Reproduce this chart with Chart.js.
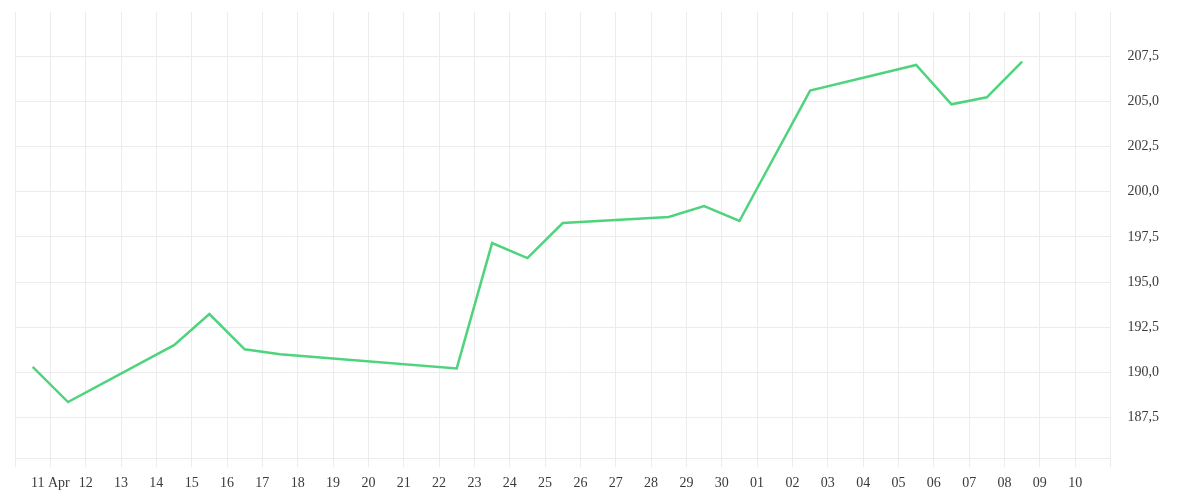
<!DOCTYPE html>
<html>
<head>
<meta charset="utf-8">
<script src="https://cdn.jsdelivr.net/npm/chart.js@4"></script>
<style>
	html, body { margin: 0; padding: 0; background: #ffffff; }
	#wrap { width: 1200px; height: 500px; }
</style>
</head>
<body>
<div id="wrap"><canvas id="ChartA"></canvas></div>
<script>
//day offsets counted from 10 Apr (x = 0 is 10 Apr 00:00), points sit at midday
var tradeDays = [0.5, 1.5, 4.5, 5.5, 6.5, 7.5, 12.5, 13.5, 14.5, 15.5, 18.5, 19.5, 20.5, 22.5, 25.5, 26.5, 27.5, 28.5];
var closePrices = [190.3, 188.36, 191.51, 193.23, 191.28, 191.0, 190.22, 197.16, 196.33, 198.27, 198.6, 199.21, 198.38, 205.6, 207.02, 204.84, 205.23, 207.2];

//one label for each day gridline, 10 Apr to 11 May
var dayLabels = ["", "11 Apr", "12", "13", "14", "15", "16", "17", "18", "19", "20", "21", "22", "23", "24", "25", "26", "27", "28", "29", "30",
	"01", "02", "03", "04", "05", "06", "07", "08", "09", "10", ""];

var yMin = 185.25;
var yMax = 209.95;

var points = tradeDays.map(function(d, i) { return {x: d, y: closePrices[i]}; });

var gridColor = "#ececec";
var tickFont = {family: "Liberation Serif", size: 14};

new Chart("ChartA",
{
	type: "line",
	data:
	{
		datasets: [
		{
			data: points,
			borderColor: "#4fd47d",
			borderWidth: 2.5,
			pointRadius: 0,
			tension: 0,
			fill: false
		}]
	},
	options:
	{
		responsive: true,
		maintainAspectRatio: false,
		animation: false,
		layout: {padding: {left: 15, top: 12, right: 38, bottom: 0}},
		plugins: {legend: {display: false}, tooltip: {enabled: false}},
		scales:
		{
			x:
			{
				type: "linear",
				min: 0,
				max: dayLabels.length - 1,
				grid: {color: gridColor, tickLength: 9},
				border: {color: gridColor},
				ticks:
				{
					stepSize: 1,
					autoSkip: false,
					maxRotation: 0,
					padding: 8,
					color: "#3a3a3a",
					font: tickFont,
					callback: function(value) { return dayLabels[value]; }
				}
			},
			y:
			{
				position: "right",
				min: yMin,
				max: yMax,
				//invisible tick marks keep the labels away from the axis without padding the top
				grid: {color: gridColor, drawTicks: true, tickLength: 14, tickColor: "rgba(0,0,0,0)"},
				border: {color: gridColor},
				ticks:
				{
					stepSize: 2.5,
					includeBounds: false,
					padding: 3,
					color: "#3a3a3a",
					font: tickFont,
					callback: function(value) { return value.toFixed(1).replace(".", ","); }
				}
			}
		}
	}
});
</script>
</body>
</html>
